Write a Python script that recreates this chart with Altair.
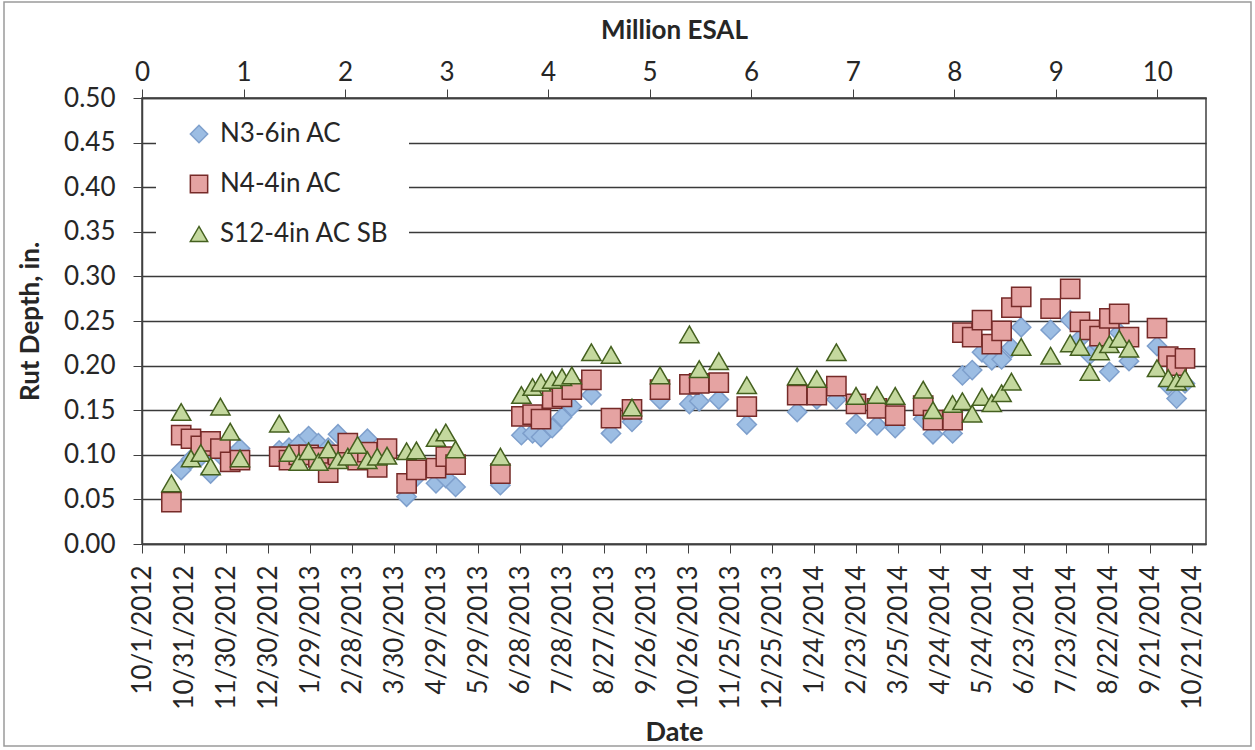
import altair as alt
import pandas as pd

FONT = "Lato"

# measurement dates (shared by the three sections)
dates = [
    "2012-10-22", "2012-10-29", "2012-11-05", "2012-11-12", "2012-11-19", "2012-11-26", "2012-12-03", "2012-12-10",
    "2013-01-07", "2013-01-14", "2013-01-21", "2013-01-28", "2013-02-04", "2013-02-11", "2013-02-18", "2013-02-25",
    "2013-03-04", "2013-03-11", "2013-03-18", "2013-03-25", "2013-04-08", "2013-04-15", "2013-04-29", "2013-05-06",
    "2013-05-13", "2013-06-14", "2013-06-29", "2013-07-07", "2013-07-13", "2013-07-21", "2013-07-28", "2013-08-04",
    "2013-08-18", "2013-09-01", "2013-09-16", "2013-10-06", "2013-10-27", "2013-11-03", "2013-11-17", "2013-12-07",
    "2014-01-12", "2014-01-26", "2014-02-09", "2014-02-23", "2014-03-10", "2014-03-23", "2014-04-12", "2014-04-19",
    "2014-05-03", "2014-05-10", "2014-05-17", "2014-05-24", "2014-05-31", "2014-06-07", "2014-06-14", "2014-06-21",
    "2014-07-12", "2014-07-26", "2014-08-02", "2014-08-09", "2014-08-16", "2014-08-23", "2014-08-30", "2014-09-06",
    "2014-09-26", "2014-10-04", "2014-10-10", "2014-10-16",
]

n3_rut = [
    0.048, 0.083, 0.095, 0.098, 0.079, 0.100, 0.098, 0.107,
    0.105, 0.108, 0.112, 0.121, 0.113, 0.108, 0.123, 0.105,
    0.100, 0.118, 0.095, 0.100, 0.053, 0.075, 0.068, 0.074,
    0.064, 0.066, 0.122, 0.124, 0.120, 0.130, 0.142, 0.154,
    0.167, 0.124, 0.137, 0.162, 0.157, 0.160, 0.162, 0.134,
    0.148, 0.162, 0.162, 0.135, 0.133, 0.130, 0.140, 0.123,
    0.124, 0.189, 0.195, 0.215, 0.206, 0.207, 0.220, 0.243,
    0.240, 0.251, 0.230, 0.212, 0.222, 0.193, 0.237, 0.205,
    0.222, 0.178, 0.163, 0.180,
]

n4_rut = [
    0.047, 0.122, 0.118, 0.110, 0.115, 0.107, 0.092, 0.094,
    0.098, 0.094, 0.100, 0.100, 0.097, 0.080, 0.100, 0.113,
    0.094, 0.103, 0.086, 0.107, 0.068, 0.083, 0.085, 0.098,
    0.089, 0.079, 0.143, 0.145, 0.140, 0.163, 0.165, 0.173,
    0.184, 0.141, 0.151, 0.173, 0.179, 0.180, 0.181, 0.154,
    0.167, 0.167, 0.177, 0.157, 0.152, 0.144, 0.155, 0.139,
    0.139, 0.237, 0.232, 0.251, 0.224, 0.239, 0.265, 0.277,
    0.264, 0.286, 0.249, 0.240, 0.233, 0.253, 0.258, 0.232,
    0.242, 0.210, 0.200, 0.208,
]

s12_rut = [
    0.068, 0.148, 0.096, 0.102, 0.087, 0.154, 0.126, 0.096,
    0.135, 0.102, 0.092, 0.104, 0.092, 0.106, 0.094, 0.098,
    0.111, 0.094, 0.098, 0.099, 0.104, 0.105, 0.119, 0.125,
    0.106, 0.098, 0.167, 0.176, 0.181, 0.184, 0.187, 0.189,
    0.215, 0.212, 0.153, 0.189, 0.235, 0.196, 0.205, 0.178,
    0.188, 0.185, 0.215, 0.166, 0.167, 0.166, 0.173, 0.150,
    0.157, 0.160, 0.146, 0.165, 0.158, 0.169, 0.182, 0.221,
    0.211, 0.225, 0.221, 0.193, 0.216, 0.224, 0.230, 0.219,
    0.197, 0.186, 0.182, 0.186,
]

series_names = ["N3-6in AC", "N4-4in AC", "S12-4in AC SB"]
series_fill = ["#9CBDE3", "#E5A3A2", "#C4D89E"]
series_stroke = ["#7E9FCC", "#762A28", "#44601F"]
series_shape = ["diamond", "square", "triangle-up"]

date_ticks = [
    "2012-10-01", "2012-10-31", "2012-11-30", "2012-12-30", "2013-01-29", "2013-02-28", "2013-03-30",
    "2013-04-29", "2013-05-29", "2013-06-28", "2013-07-28", "2013-08-27", "2013-09-26", "2013-10-26",
    "2013-11-25", "2013-12-25", "2014-01-24", "2014-02-23", "2014-03-25", "2014-04-24", "2014-05-24",
    "2014-06-23", "2014-07-23", "2014-08-22", "2014-09-21", "2014-10-21",
]
date_min, date_max = "2012-10-01", "2014-10-31"

rut_ticks = [0.0, 0.05, 0.10, 0.15, 0.20, 0.25, 0.30, 0.35, 0.40, 0.45, 0.50]
esal_ticks = [0, 1, 2, 3, 4, 5, 6, 7, 8, 9, 10]
esal_max = 10.48

rows = []
for name, vals in zip(series_names, [n3_rut, n4_rut, s12_rut]):
    for d, v in zip(dates, vals):
        rows.append({"date": d, "rut": v, "series": name})
df = pd.DataFrame(rows)


def ms(s):
    return int(pd.Timestamp(s, tz="UTC").timestamp() * 1000)


x_tick_ms = [ms(s) for s in date_ticks]
x_domain = [ms(date_min), ms(date_max)]

AX = "#404040"
TXT = "#262626"

points = alt.Chart(df).mark_point(filled=True, opacity=1, strokeWidth=1.5, size=370).encode(
    x=alt.X(
        "date:T",
        scale=alt.Scale(type="utc", domain=x_domain, nice=False),
        axis=alt.Axis(
            values=x_tick_ms, labelExpr="utcFormat(datum.value, '%-m/%-d/%Y')",
            labelAngle=-90, labelFont=FONT, labelFontSize=26, labelColor=TXT,
            labelPadding=12, tickSize=9, tickColor=AX, domainColor=AX, domainWidth=1.5,
            grid=False, labelOverlap=False, labelFlush=False,
            title="Date", titleFont=FONT, titleFontSize=27, titleFontWeight="bold",
            titleColor=TXT, titlePadding=10,
        ),
    ),
    y=alt.Y(
        "rut:Q",
        scale=alt.Scale(domain=[0, 0.5], nice=False, zero=True),
        axis=alt.Axis(
            values=rut_ticks, format=".2f", labelFont=FONT, labelFontSize=26,
            labelColor=TXT, labelPadding=18, tickSize=9, tickColor=AX,
            domainColor=AX, domainWidth=1.5, grid=True, gridColor="#3a3a3a",
            gridWidth=1.4, labelOverlap=False, labelFlush=False,
            title="Rut Depth, in.", titleFont=FONT, titleFontSize=26,
            titleFontWeight="bold", titleColor=TXT, titlePadding=20,
        ),
    ),
    fill=alt.Fill("series:N", scale=alt.Scale(domain=series_names, range=series_fill), title=None),
    stroke=alt.Stroke("series:N", scale=alt.Scale(domain=series_names, range=series_stroke), title=None),
    shape=alt.Shape("series:N", scale=alt.Scale(domain=series_names, range=series_shape), title=None),
)

esal = alt.Chart(pd.DataFrame({"esal": esal_ticks})).mark_point(opacity=0).encode(
    x=alt.X(
        "esal:Q",
        scale=alt.Scale(domain=[0, esal_max], nice=False, zero=True),
        axis=alt.Axis(
            orient="top", values=esal_ticks, format="d", labelFont=FONT,
            labelFontSize=26, labelColor=TXT, labelPadding=4, tickSize=9,
            tickColor=AX, domainColor=AX, domainWidth=1.5, grid=False,
            labelFlush=False, labelOverlap=False,
            title="Million ESAL", titleFont=FONT, titleFontSize=26,
            titleFontWeight="bold", titleColor=TXT, titlePadding=16,
        ),
    )
)

border = alt.Chart(pd.DataFrame({"b": [1]})).mark_rect(
    filled=False, stroke="#9a9a9a", strokeWidth=1.5
).encode(
    x=alt.value(-138), x2=alt.value(1109), y=alt.value(-96), y2=alt.value(648)
)

chart = (
    alt.layer(border, esal, points)
    .resolve_scale(x="independent")
    .properties(
        width=1064, height=446, autosize="none", background="white",
        padding={"left": 142, "top": 98, "right": 49, "bottom": 206},
    )
    .configure_view(stroke=AX, strokeWidth=1.5)
    .configure_legend(
        orient="none", legendX=14, legendY=3, fillColor="white",
        padding=20, rowPadding=24, symbolSize=300, symbolStrokeWidth=1.5,
        labelFont=FONT, labelFontSize=26, labelColor=TXT, labelOffset=8,
        labelLimit=500, symbolOffset=10,
    )
)

chart.save("out.html", embed_options={"renderer": "svg", "actions": False})
